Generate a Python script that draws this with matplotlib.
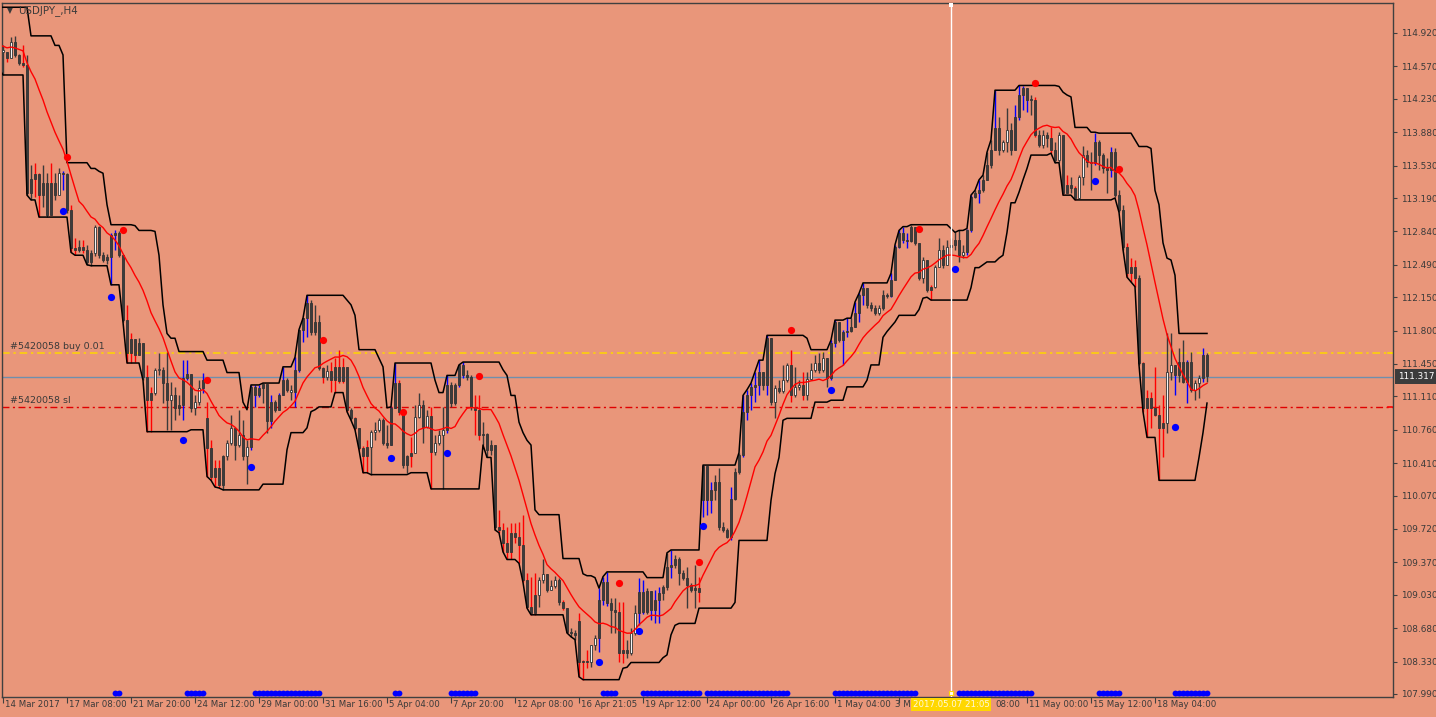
import matplotlib
matplotlib.use("Agg")
import matplotlib.pyplot as plt
import matplotlib.transforms as mtransforms
import numpy as np
import pandas as pd

# hidden bars left of the window, only used to warm up the indicators
PRE_CLOSE = [114.79, 114.85, 114.76, 114.83, 114.74]
PRE_HIGH = [114.90, 114.95, 115.19, 114.87, 114.85]
PRE_LOW = [114.64, 114.69, 114.62, 114.66, 114.55]

CLOSE = [
    114.72, 114.66, 114.83, 114.69, 114.61, 114.58, 113.24, 113.39, 113.44, 113.22,
    113.35, 113.01, 113.35, 113.22, 113.45, 113.44, 113.06, 112.67, 112.65, 112.68,
    112.65, 112.52, 112.61, 112.89, 112.59, 112.54, 112.57, 112.80, 112.82, 112.59,
    111.91, 111.56, 111.71, 111.54, 111.67, 111.31, 111.07, 111.15, 111.39, 111.39,
    111.25, 111.07, 111.12, 110.99, 111.02, 111.30, 111.34, 110.99, 111.05, 111.20,
    111.28, 110.57, 110.27, 110.36, 110.18, 110.48, 110.62, 110.78, 110.60, 110.71,
    110.48, 110.58, 111.21, 111.12, 111.20, 111.24, 110.85, 111.05, 110.97, 111.12,
    111.28, 111.18, 111.16, 111.39, 111.81, 111.93, 112.09, 111.79, 111.89, 111.41,
    111.31, 111.38, 111.28, 111.42, 111.27, 111.42, 110.97, 110.88, 110.78, 110.57,
    110.48, 110.58, 110.74, 110.76, 110.86, 110.62, 110.60, 110.99, 111.25, 110.95,
    110.39, 110.48, 110.52, 110.89, 111.02, 110.79, 110.90, 110.53, 110.62, 110.71,
    110.76, 111.23, 111.04, 111.23, 111.44, 111.33, 111.31, 111.00, 110.97, 110.71,
    110.72, 110.55, 110.60, 109.74, 109.71, 109.57, 109.48, 109.68, 109.64, 109.55,
    109.19, 108.90, 108.84, 109.03, 109.19, 109.25, 109.08, 109.12, 109.19, 108.95,
    108.89, 108.64, 108.63, 108.61, 108.33, 108.34, 108.33, 108.50, 108.58, 108.98,
    109.16, 108.94, 108.87, 108.85, 108.42, 108.45, 108.42, 108.63, 108.84, 109.06,
    108.85, 109.07, 108.87, 108.98, 109.05, 109.11, 109.32, 109.34, 109.40, 109.26,
    109.21, 109.13, 109.08, 109.10, 109.06, 110.38, 110.02, 110.13, 110.21, 109.74,
    109.71, 109.64, 110.03, 110.32, 110.50, 110.95, 111.12, 111.21, 111.23, 111.37,
    111.23, 111.72, 111.05, 111.20, 111.17, 111.28, 111.44, 111.12, 111.21, 111.23,
    111.12, 111.29, 111.39, 111.46, 111.39, 111.51, 111.30, 111.67, 111.89, 111.70,
    111.79, 111.80, 111.84, 111.98, 112.17, 112.25, 112.07, 112.04, 111.98, 112.04,
    112.17, 112.16, 112.33, 112.68, 112.82, 112.75, 112.74, 112.89, 112.72, 112.35,
    112.54, 112.23, 112.26, 112.47, 112.65, 112.49, 112.68, 112.70, 112.75, 112.59,
    112.62, 112.85, 113.20, 113.24, 113.27, 113.38, 113.54, 113.69, 113.92, 113.69,
    113.78, 113.90, 113.69, 114.04, 114.27, 114.34, 114.22, 114.22, 113.85, 113.75,
    113.85, 113.82, 113.69, 113.59, 113.85, 113.24, 113.33, 113.30, 113.19, 113.41,
    113.64, 113.57, 113.56, 113.78, 113.64, 113.50, 113.48, 113.67, 113.22, 113.06,
    112.68, 112.40, 112.47, 112.35, 111.46, 110.99, 111.09, 110.99, 110.92, 110.78,
    110.83, 111.37, 111.44, 111.33, 111.47, 111.26, 111.47, 111.18, 111.25, 111.30,
    111.54, 111.32,
]

HIGH = [
    114.79, 114.71, 114.88, 114.89, 114.70, 114.79, 114.69, 113.54, 113.56, 113.45,
    113.54, 113.45, 113.56, 113.45, 113.50, 113.47, 113.45, 113.12, 112.77, 112.75,
    112.75, 112.70, 112.65, 112.91, 112.90, 112.62, 112.60, 112.82, 112.85, 112.84,
    112.59, 112.07, 111.77, 111.70, 111.72, 111.51, 111.44, 111.21, 111.41, 111.56,
    111.42, 111.58, 111.26, 111.21, 111.12, 111.49, 111.49, 111.32, 111.12, 111.28,
    111.36, 111.05, 110.65, 110.44, 110.44, 110.50, 110.65, 110.91, 110.76, 110.97,
    110.86, 110.65, 111.23, 111.23, 111.23, 111.25, 111.10, 111.12, 111.07, 111.15,
    111.42, 111.30, 111.23, 111.52, 111.81, 111.93, 112.17, 112.12, 112.07, 111.96,
    111.42, 111.44, 111.47, 111.51, 111.60, 111.51, 111.42, 110.99, 110.89, 110.73,
    110.59, 110.65, 110.76, 110.84, 110.88, 110.88, 110.81, 111.00, 111.46, 111.28,
    110.97, 110.50, 110.68, 111.02, 111.15, 111.07, 110.97, 111.00, 110.71, 110.76,
    111.00, 111.33, 111.26, 111.25, 111.44, 111.47, 111.39, 111.33, 111.12, 111.12,
    110.84, 110.73, 110.65, 110.60, 109.92, 109.78, 109.74, 109.78, 109.78, 109.79,
    109.87, 109.26, 109.22, 109.26, 109.22, 109.41, 109.25, 109.19, 109.23, 109.21,
    108.98, 108.89, 108.68, 108.66, 108.84, 108.35, 108.45, 108.50, 108.61, 109.10,
    109.22, 109.27, 109.00, 109.00, 108.95, 108.95, 108.56, 108.68, 108.92, 109.21,
    109.19, 109.10, 108.98, 109.08, 109.11, 109.13, 109.47, 109.50, 109.45, 109.43,
    109.29, 109.32, 109.15, 109.34, 109.22, 110.39, 110.13, 110.21, 110.29, 110.36,
    109.79, 109.73, 110.16, 110.36, 110.52, 111.12, 111.18, 111.25, 111.37, 111.49,
    111.36, 111.75, 111.72, 111.23, 111.28, 111.44, 111.46, 111.60, 111.42, 111.28,
    111.37, 111.37, 111.46, 111.54, 111.56, 111.58, 111.41, 111.70, 111.91, 111.86,
    111.81, 111.93, 111.93, 112.10, 112.19, 112.30, 112.25, 112.10, 112.07, 112.07,
    112.23, 112.19, 112.40, 112.70, 112.85, 112.89, 112.82, 112.91, 112.87, 112.72,
    112.57, 112.46, 112.28, 112.49, 112.77, 112.70, 112.75, 112.77, 112.83, 112.85,
    112.70, 112.87, 113.22, 113.27, 113.38, 113.43, 113.67, 113.80, 114.32, 114.04,
    113.80, 114.13, 113.98, 114.17, 114.37, 114.36, 114.30, 114.27, 114.25, 113.90,
    113.90, 113.88, 113.93, 113.78, 113.88, 113.85, 113.43, 113.41, 113.32, 113.43,
    113.74, 113.69, 113.67, 113.87, 113.80, 113.66, 113.61, 113.73, 113.71, 113.27,
    113.12, 112.72, 112.56, 112.54, 112.38, 111.47, 111.18, 111.16, 111.42, 111.02,
    111.12, 111.77, 111.77, 111.44, 111.62, 111.70, 111.49, 111.58, 111.28, 111.33,
    111.62, 111.56,
]

LOW = [
    114.48, 114.62, 114.66, 114.67, 114.58, 114.56, 113.22, 113.17, 113.20, 112.99,
    113.10, 112.99, 113.01, 113.17, 113.27, 113.27, 113.03, 112.62, 112.59, 112.62,
    112.61, 112.49, 112.48, 112.58, 112.56, 112.52, 112.50, 112.28, 112.65, 112.57,
    111.89, 111.46, 111.46, 111.47, 111.54, 111.28, 110.74, 110.74, 111.12, 111.33,
    111.04, 110.76, 110.76, 110.86, 110.91, 110.86, 111.28, 110.95, 110.91, 111.02,
    111.15, 110.27, 110.23, 110.16, 110.15, 110.13, 110.44, 110.60, 110.44, 110.58,
    110.44, 110.19, 110.55, 111.00, 111.10, 111.04, 110.73, 110.78, 110.95, 110.97,
    111.12, 111.16, 111.07, 111.00, 111.37, 111.68, 111.73, 111.75, 111.75, 111.39,
    111.25, 111.28, 111.16, 111.15, 111.25, 111.25, 110.95, 110.86, 110.76, 110.55,
    110.31, 110.31, 110.29, 110.65, 110.74, 110.60, 110.57, 110.60, 111.00, 110.91,
    110.36, 110.31, 110.37, 110.52, 110.88, 110.62, 110.78, 110.14, 110.50, 110.60,
    110.14, 110.73, 111.00, 111.02, 111.21, 111.30, 111.28, 110.97, 110.71, 110.65,
    110.60, 110.47, 110.50, 109.71, 109.68, 109.48, 109.40, 109.40, 109.57, 109.36,
    109.16, 108.89, 108.82, 108.82, 108.90, 109.15, 109.06, 109.08, 109.10, 108.92,
    108.87, 108.63, 108.59, 108.56, 108.17, 108.14, 108.26, 108.27, 108.45, 108.43,
    108.92, 108.91, 108.63, 108.63, 108.33, 108.32, 108.37, 108.40, 108.61, 108.71,
    108.83, 108.83, 108.77, 108.73, 108.73, 108.98, 109.08, 109.21, 109.31, 109.13,
    109.19, 108.89, 109.06, 108.89, 108.95, 109.85, 109.87, 109.89, 110.02, 109.71,
    109.69, 109.63, 109.60, 110.02, 110.30, 110.47, 110.86, 110.97, 111.05, 111.12,
    111.18, 111.12, 111.02, 110.88, 111.15, 111.15, 111.26, 111.05, 111.10, 111.18,
    111.07, 111.07, 111.28, 111.37, 111.36, 111.37, 111.21, 111.28, 111.63, 111.68,
    111.44, 111.73, 111.79, 111.84, 111.89, 112.07, 112.04, 112.01, 111.96, 111.96,
    112.02, 112.14, 112.15, 112.35, 112.67, 112.72, 112.67, 112.73, 112.70, 112.33,
    112.30, 112.20, 112.12, 112.25, 112.49, 112.46, 112.49, 112.59, 112.65, 112.52,
    112.56, 112.59, 112.83, 113.19, 113.14, 113.25, 113.38, 113.50, 113.69, 113.64,
    113.67, 113.67, 113.64, 113.77, 114.01, 114.11, 114.09, 114.06, 113.83, 113.72,
    113.71, 113.72, 113.66, 113.56, 113.57, 113.22, 113.27, 113.24, 113.17, 113.19,
    113.33, 113.52, 113.27, 113.54, 113.48, 113.45, 113.24, 113.41, 113.20, 113.04,
    112.65, 112.36, 112.31, 112.26, 111.44, 110.95, 110.68, 110.78, 110.90, 110.23,
    110.47, 110.73, 111.28, 111.12, 111.26, 111.25, 111.04, 111.16, 111.07, 111.09,
    111.26, 111.26,
]

# weekend gaps: (bar, open price)
GAP_OPENS = [(51, 110.88), (144, 108.76), (175, 110.02)]

WHITE_BARS = [0, 2, 14, 23, 38, 39, 42, 48, 49, 56, 57, 59, 61, 72, 81, 92, 93, 94,
              103, 104, 106, 108, 109, 110, 134, 135, 137, 138, 147, 148, 157, 158,
              193, 195, 196, 198, 199, 201, 202, 203, 205, 219, 230, 233, 234, 236,
              240, 250, 251, 260, 264, 269, 270, 272, 291, 292, 298, 299]
RED_WICKS = [1, 5, 8, 9, 12, 17, 18, 20, 31, 32, 33, 36, 37, 51, 52, 53, 54, 80, 82,
             83, 84, 85, 86, 88, 89, 90, 91, 99, 102, 107, 118, 119, 124, 125, 126,
             127, 128, 129, 130, 131, 132, 133, 140, 141, 144, 145, 146, 154, 155,
             174, 197, 200, 232, 258, 262, 265, 266, 268, 281, 282, 283, 285, 286,
             287, 288, 289, 290]
BLUE_WICKS = [15, 27, 28, 45, 46, 50, 62, 63, 64, 67, 69, 70, 73, 74, 75, 76, 97, 98,
              111, 114, 115, 149, 150, 151, 159, 160, 162, 163, 164, 167, 175, 176,
              177, 182, 185, 186, 187, 188, 189, 191, 207, 208, 210, 211, 213, 214,
              215, 222, 223, 224, 225, 226, 241, 242, 244, 248, 253, 254, 255, 256,
              273, 277, 293, 296, 300]

RED_DOT_BARS = [16, 30, 51, 80, 100, 119, 154, 174, 197, 229, 258, 279]
RED_DOT_PRICES = [113.62, 112.85, 111.28, 111.70, 110.95, 111.32, 109.15, 109.37,
                  111.81, 112.86, 114.40, 113.49]
BLUE_DOT_BARS = [15, 27, 45, 62, 97, 111, 149, 159, 175, 207, 238, 273, 293]
BLUE_DOT_PRICES = [113.05, 112.15, 110.65, 110.37, 110.46, 110.52, 108.33, 108.65,
                   109.75, 111.18, 112.45, 113.37, 110.79]

# bar ranges marked along the bottom edge
BOTTOM_MARK_RANGES = [(28, 29), (46, 50), (63, 79), (98, 99), (112, 118), (150, 153),
                      (160, 174), (176, 196), (208, 228), (239, 257), (274, 279),
                      (293, 301)]

CHANNEL_PERIOD = 10
MA_PERIOD = 14

BUY_PRICE = 111.56
SL_PRICE = 111.00
BID_PRICE = 111.317
CURSOR_BAR = 237
CURSOR_LABEL = "2017.05.07 21:05"

# the two labels behind the cursor box only show their visible parts
TIME_LABEL_BARS = [0, 16, 32, 48, 64, 80, 96, 112, 128, 144, 160, 176, 192, 208, 224,
                   247.5, 256, 272, 288]
TIME_LABELS = ["14 Mar 2017", "17 Mar 08:00", "21 Mar 20:00", "24 Mar 12:00",
               "29 Mar 00:00", "31 Mar 16:00", "5 Apr 04:00", "7 Apr 20:00",
               "12 Apr 08:00", "16 Apr 21:05", "19 Apr 12:00", "24 Apr 00:00",
               "26 Apr 16:00", "1 May 04:00", "3 M", "08:00",
               "11 May 00:00", "15 May 12:00", "18 May 04:00"]
TICK_BARS = list(range(0, 289, 16))
PRICE_TICKS = [114.920, 114.570, 114.230, 113.880, 113.530, 113.190, 112.840,
               112.490, 112.150, 111.800, 111.450, 111.110, 110.760, 110.410,
               110.070, 109.720, 109.370, 109.030, 108.680, 108.330, 107.990]

BG = "#e9967a"
TXT = "#3a3a3a"
W, H = 1436, 717


def build_opens():
    opens = [PRE_CLOSE[-1]] + CLOSE[:-1]
    for bar, price in GAP_OPENS:
        opens[bar] = price
    return np.array(opens)


def draw_candles(ax, opens):
    n = len(CLOSE)
    x = np.arange(n)
    c = np.array(CLOSE)
    hi = np.maximum.reduce([np.array(HIGH), opens, c])
    lo = np.minimum.reduce([np.array(LOW), opens, c])

    wick_colors = []
    for i in range(n):
        if i in RED_WICKS:
            wick_colors.append("#ff0000")
        elif i in BLUE_WICKS:
            wick_colors.append("#0000ff")
        else:
            wick_colors.append("#3a3a3a")
    ax.vlines(x, lo, hi, colors=wick_colors, linewidth=1.0, zorder=2)

    bottoms = np.minimum(opens, c)
    heights = np.maximum(np.abs(c - opens), 0.007)
    fills = ["#f4f4f4" if i in WHITE_BARS else "#3c3c3c" for i in range(n)]
    ax.bar(x, heights, bottom=bottoms, width=0.72, color=fills,
           edgecolor="#333333", linewidth=0.6, zorder=3)


def draw_indicators(ax):
    highs = pd.Series(PRE_HIGH + HIGH)
    lows = pd.Series(PRE_LOW + LOW)
    closes = pd.Series(PRE_CLOSE + CLOSE)
    xs = np.arange(len(closes)) - len(PRE_CLOSE)

    upper = highs.rolling(CHANNEL_PERIOD, min_periods=1).max()
    lower = lows.rolling(CHANNEL_PERIOD, min_periods=1).min()
    ma = closes.rolling(MA_PERIOD, min_periods=1).mean()

    ax.plot(xs, upper, color="black", linewidth=1.1, zorder=4)
    ax.plot(xs, lower, color="black", linewidth=1.1, zorder=4)
    ax.plot(xs, ma, color="#ff0000", linewidth=1.0, zorder=4)

    ax.plot(RED_DOT_BARS, RED_DOT_PRICES, "o", color="#ff0000", ms=5.2, mew=0, zorder=6)
    ax.plot(BLUE_DOT_BARS, BLUE_DOT_PRICES, "o", color="#0000ff", ms=5.2, mew=0, zorder=6)

    trans = mtransforms.blended_transform_factory(ax.transData, ax.transAxes)
    for start, end in BOTTOM_MARK_RANGES:
        bars = np.arange(start, end + 1)
        ax.plot(bars, np.full(len(bars), 0.0058), "o", color="#0000ff", ms=4.2,
                mew=0, transform=trans, zorder=6, clip_on=False)
        ax.plot([start, end], [0.004, 0.004], color="#0000ff", lw=3.2,
                solid_capstyle="butt", transform=trans, zorder=6, clip_on=False)


def draw_trade_lines(ax):
    ax.axhline(BUY_PRICE, color="#ffd700", linewidth=1.1, dashes=(5, 2.5, 1.5, 2.5), zorder=1)
    ax.axhline(SL_PRICE, color="#e00000", linewidth=1.0, dashes=(5, 2.5, 1.5, 2.5), zorder=1)
    ax.axhline(BID_PRICE, color="#6f8fad", linewidth=1.0, zorder=1)

    ax.text(1.75, BUY_PRICE + 0.025, "#5420058 buy 0.01", fontsize=6.8, color=TXT,
            va="bottom", ha="left", zorder=7)
    ax.text(1.75, SL_PRICE + 0.025, "#5420058 sl", fontsize=6.8, color=TXT,
            va="bottom", ha="left", zorder=7)

    right = mtransforms.blended_transform_factory(ax.transAxes, ax.transData)
    ax.plot([0.9962, 0.9993], [BUY_PRICE] * 2, color="#ffd700", lw=1.2, transform=right)
    ax.plot([0.9962, 0.9993], [SL_PRICE] * 2, color="#ff0000", lw=1.2, transform=right)
    ax.text(1.0 + 5 / 1391, BID_PRICE, f"{BID_PRICE:.3f}", transform=right, ha="left",
            va="center", fontsize=6.4, color="white", clip_on=False, zorder=10,
            bbox=dict(boxstyle="square,pad=0.3", fc="#3c3c3c", ec="none"))


def draw_cursor(ax):
    trans = mtransforms.blended_transform_factory(ax.transData, ax.transAxes)
    ax.axvline(CURSOR_BAR, color="white", linewidth=1.0, zorder=5)
    ax.plot([CURSOR_BAR], [0.997], "s", color="white", ms=3, mew=0, transform=trans,
            clip_on=False, zorder=7)
    ax.plot([CURSOR_BAR], [0.0055], "s", color="white", mec="#ffd700", ms=3.5, mew=0.8,
            transform=trans, clip_on=False, zorder=7)
    ax.text(CURSOR_BAR, -0.0105, CURSOR_LABEL, transform=trans, ha="center", va="center",
            fontsize=6.2, color="#fff8dc", clip_on=False, zorder=10,
            bbox=dict(boxstyle="square,pad=0.2", fc="#ffd700", ec="none"))


def style_axes(ax):
    ax.set_facecolor(BG)
    ax.set_xlim(-0.25, 347.5)
    ax.set_ylim(107.9584, 115.2345)
    for spine in ax.spines.values():
        spine.set_color("#404040")
        spine.set_linewidth(1.0)

    ax.yaxis.tick_right()
    ax.set_yticks(PRICE_TICKS)
    ax.set_yticklabels([f"{t:.3f}" for t in PRICE_TICKS])
    ax.tick_params(axis="y", direction="out", length=3, width=0.8, color="#404040",
                   labelsize=6.4, labelcolor=TXT, pad=3)

    ax.set_xticks(TICK_BARS)
    ax.set_xticklabels([])
    ax.tick_params(axis="x", direction="out", length=4, width=0.8, color="#404040")
    trans = mtransforms.blended_transform_factory(ax.transData, ax.transAxes)
    for bar, label in zip(TIME_LABEL_BARS, TIME_LABELS):
        if label == "3 M":
            # cut off by the cursor box, so it ends right where the box begins
            ax.text(227.0, -0.0115, label, transform=trans, ha="right", va="center",
                    fontsize=6.2, color=TXT, clip_on=False, zorder=5)
            continue
        ax.text(bar + 0.55, -0.0115, label, transform=trans, ha="left", va="center",
                fontsize=6.2, color=TXT, clip_on=False, zorder=5)


def main():
    plt.rcParams["font.family"] = ["DejaVu Sans"]
    fig = plt.figure(figsize=(W / 100, H / 100), dpi=100)
    fig.patch.set_facecolor(BG)
    ax = fig.add_axes([2 / W, (H - 697) / H, (1393 - 2) / W, (697 - 3) / H])

    style_axes(ax)
    opens = build_opens()
    draw_trade_lines(ax)
    draw_candles(ax, opens)
    draw_indicators(ax)
    draw_cursor(ax)

    fig.text(7 / W, 1 - 11 / H, "\u25bc", fontsize=5.5, color=TXT, va="center", ha="left")
    fig.text(18 / W, 1 - 11 / H, "USDJPY_,H4", fontsize=7.4, color=TXT, va="center", ha="left")

    fig.savefig("out.png", dpi=100, facecolor=BG)
    plt.close(fig)


if __name__ == "__main__":
    main()
